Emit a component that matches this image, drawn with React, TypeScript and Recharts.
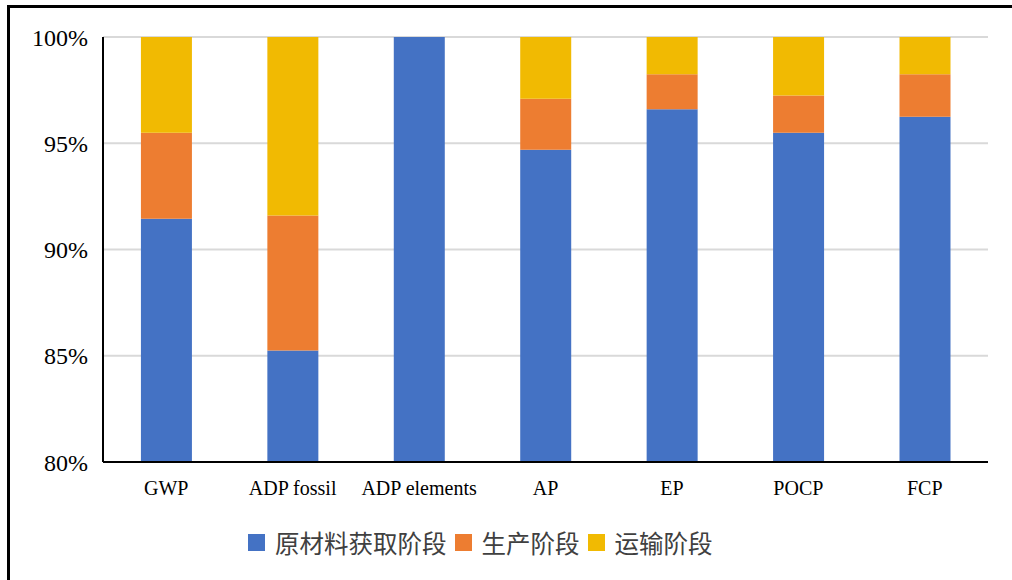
import React from "react";
import { BarChart, Bar, XAxis, YAxis, CartesianGrid } from "recharts";

const categories = ["GWP", "ADP fossil", "ADP elements", "AP", "EP", "POCP", "FCP"];
const rawMaterial = [91.45, 85.25, 100, 94.7, 96.6, 95.5, 96.25];
const production = [4.05, 6.35, 0, 2.4, 1.65, 1.75, 2.0];
const transport = [4.5, 8.4, 0, 2.9, 1.75, 2.75, 1.75];
const yTicks = [80, 85, 90, 95, 100];

const series = [
  { key: "raw", name: "原材料获取阶段", color: "#4472C4" },
  { key: "prod", name: "生产阶段", color: "#ED7D31" },
  { key: "trans", name: "运输阶段", color: "#F1BA02" },
];

const data = categories.map((c, i) => ({
  name: c,
  raw: rawMaterial[i],
  prod: production[i],
  trans: transport[i],
}));

const serif = "'Liberation Serif', 'DejaVu Serif', serif";

const App = () => {
  return (
    <div
      style={{
        position: "absolute",
        left: 0,
        top: 0,
        width: 1012,
        height: 580,
        overflow: "hidden",
        background: "#fff",
      }}
    >
      <div
        style={{
          position: "absolute",
          left: 7,
          top: 5,
          width: 1100,
          height: 700,
          border: "3px solid #000",
        }}
      />
      <div style={{ position: "absolute", left: 0, top: 0 }}>
        <BarChart
          width={1012}
          height={580}
          data={data}
          margin={{ top: 37, right: 24, left: 0, bottom: 60 }}
          barCategoryGap="30%"
        >
          <CartesianGrid vertical={false} stroke="#d9d9d9" strokeWidth={2} />
          <XAxis
            dataKey="name"
            height={58}
            tickLine={false}
            axisLine={{ stroke: "#000", strokeWidth: 2 }}
            tick={{ fill: "#000", fontSize: 20, fontFamily: serif }}
            tickMargin={13}
            interval={0}
          />
          <YAxis
            width={103}
            domain={[80, 100]}
            ticks={yTicks}
            allowDataOverflow
            tickLine={false}
            axisLine={{ stroke: "#000", strokeWidth: 2 }}
            tick={{ fill: "#000", fontSize: 24, fontFamily: serif }}
            tickMargin={9}
            tickFormatter={(v: number) => `${v}%`}
          />
          {series.map((s) => (
            <Bar
              key={s.key}
              dataKey={s.key}
              name={s.name}
              stackId="a"
              fill={s.color}
              isAnimationActive={false}
            />
          ))}
        </BarChart>
      </div>
      <div
        style={{
          position: "absolute",
          left: 248,
          top: 525,
          display: "flex",
          alignItems: "center",
          fontFamily: "'Noto Sans CJK SC', sans-serif",
          fontSize: 24.5,
          color: "#404040",
        }}
      >
        {series.map((s) => (
          <div key={s.key} style={{ display: "flex", alignItems: "center", marginRight: 8 }}>
            <span
              style={{
                display: "inline-block",
                width: 17,
                height: 17,
                background: s.color,
                marginRight: 10,
              }}
            />
            <span>{s.name}</span>
          </div>
        ))}
      </div>
    </div>
  );
};

export default App;
